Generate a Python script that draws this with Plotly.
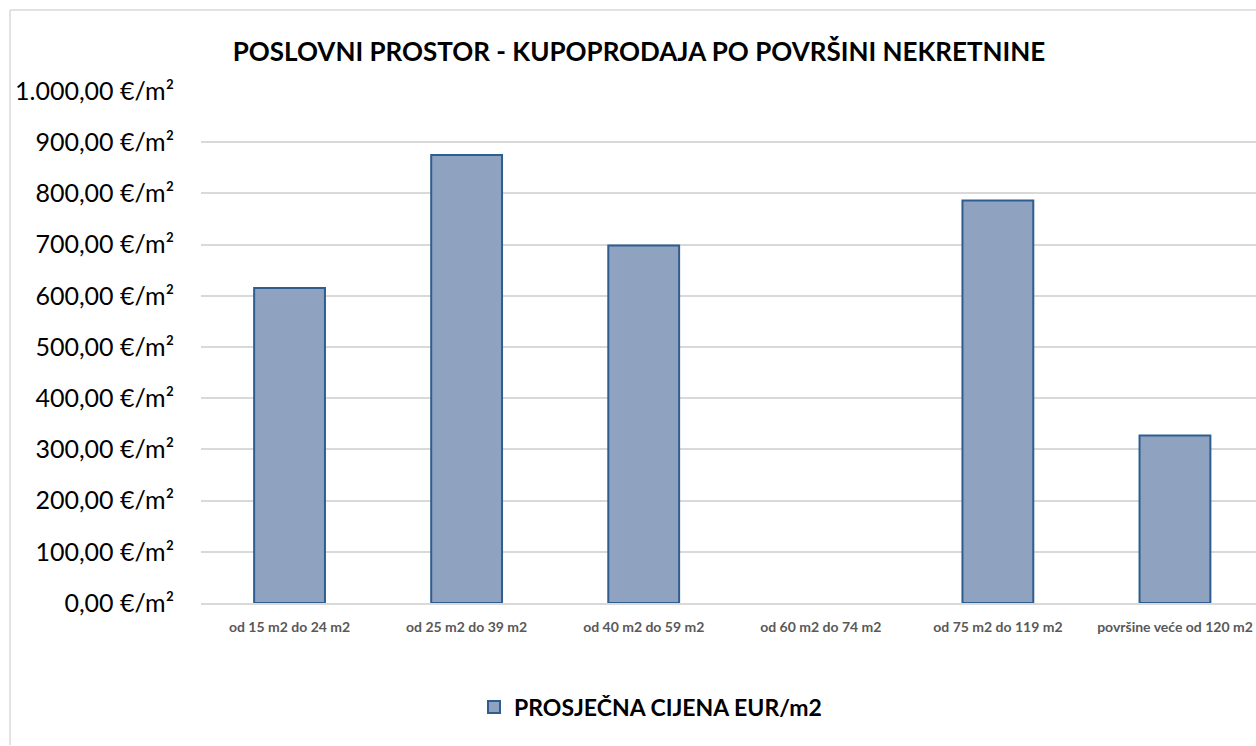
import plotly.graph_objects as go

categories = ["od 15 m2 do 24 m2", "od 25 m2 do 39 m2", "od 40 m2 do 59 m2",
              "od 60 m2 do 74 m2", "od 75 m2 do 119 m2", "površine veće od 120 m2"]
prices = [615, 875, 698, None, 786, 327]
series_name = "PROSJEČNA CIJENA EUR/m2"
title_text = "POSLOVNI PROSTOR - KUPOPRODAJA PO POVRŠINI NEKRETNINE"
y_tickvals = [0, 100, 200, 300, 400, 500, 600, 700, 800, 900, 1000]
y_ticktext = ["0,00 €/m²", "100,00 €/m²", "200,00 €/m²", "300,00 €/m²", "400,00 €/m²",
              "500,00 €/m²", "600,00 €/m²", "700,00 €/m²", "800,00 €/m²", "900,00 €/m²",
              "1.000,00 €/m²"]

FONT = "Lato"
W, H = 1256, 746
L, T, B = 201, 91, 142.5
plot_w = W - L
plot_h = H - T - B

fig = go.Figure()
fig.add_trace(go.Bar(
    x=categories, y=prices, name=series_name,
    marker=dict(color="#8FA2C0", line=dict(color="#2E5D8F", width=2)),
    width=0.4,
))

fig.update_layout(
    width=W, height=H,
    margin=dict(l=L, r=0, t=T, b=B, autoexpand=False),
    paper_bgcolor="white", plot_bgcolor="white",
    font=dict(family=FONT, color="#000000"),
    title=dict(text="<b>" + title_text + "</b>", font=dict(size=26, family=FONT, color="#000000"),
               x=639 / W, xanchor="center", xref="container",
               y=1 - 52 / H, yanchor="middle", yref="container"),
    showlegend=True,
    legend=dict(orientation="h", xref="container", yref="container",
                x=474 / W, xanchor="left", y=1 - 707 / H, yanchor="middle",
                font=dict(size=23, family=FONT, color="#000000", weight="bold")),
    bargap=0.6,
    xaxis=dict(
        type="category", range=[-0.5, 5.5 - 7.5 / 177],
        showgrid=False, showline=True, linecolor="#D9D9D9", linewidth=2,
        ticks="outside", ticklen=10, tickcolor="rgba(0,0,0,0)",
        tickfont=dict(size=14, family=FONT, color="#595959", weight="bold"),
        tickangle=0, fixedrange=True,
    ),
    yaxis=dict(
        range=[0, 1000], tickvals=y_tickvals, ticktext=y_ticktext,
        showgrid=True, gridcolor="#D9D9D9", gridwidth=2,
        zeroline=False, showline=False,
        ticks="outside", ticklen=21, tickcolor="rgba(0,0,0,0)",
        tickfont=dict(size=25, family=FONT, color="#000000"),
        fixedrange=True,
    ),
)

# chart area border (left and top edges visible in the crop)
x_left = (10 - L) / plot_w
y_top = (H - B - 10) / plot_h
y_bot = (H - B - H) / plot_h
fig.add_shape(type="line", xref="paper", yref="paper", x0=x_left, x1=1.05, y0=y_top, y1=y_top,
              line=dict(color="#D9D9D9", width=1.5))
fig.add_shape(type="line", xref="paper", yref="paper", x0=x_left, x1=x_left, y0=y_top, y1=y_bot,
              line=dict(color="#D9D9D9", width=1.5))

fig.write_html("out.html", config={"displayModeBar": False},
               post_script="document.body.style.margin='0';document.body.style.overflow='hidden';")
